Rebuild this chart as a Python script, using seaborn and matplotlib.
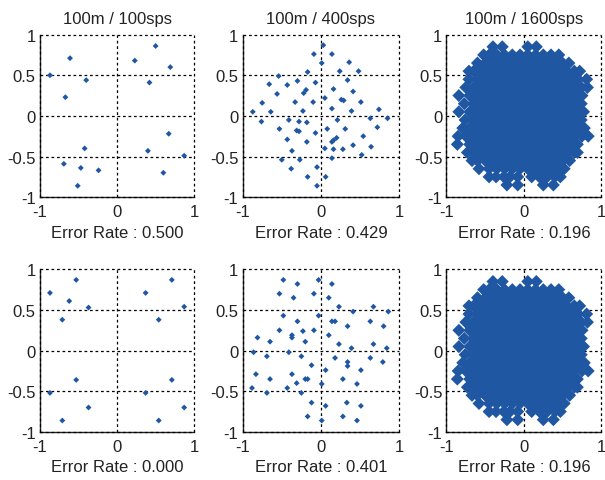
import matplotlib
matplotlib.use("Agg")
import matplotlib.pyplot as plt
import seaborn as sns
import numpy as np
import pandas as pd

# panel titles / error rates
titles = ["100m / 100sps", "100m / 400sps", "100m / 1600sps"]
error_rates = [["0.500", "0.429", "0.196"], ["0.000", "0.401", "0.196"]]

# top-left (100sps)
x_100a = [-0.87, -0.61, -0.40, -0.67, 0.23, 0.50, 0.69, 0.42, -0.42, -0.69, -0.47, -0.24, -0.51, 0.67, 0.40, 0.87, 0.60]
y_100a = [0.50, 0.71, 0.44, 0.23, 0.68, 0.86, 0.60, 0.41, -0.40, -0.59, -0.64, -0.67, -0.86, -0.22, -0.43, -0.49, -0.70]

# bottom-left (100sps)
x_100b = [-0.87, -0.53, -0.62, -0.37, -0.71, 0.37, 0.71, 0.87, 0.54, -0.53, -0.87, -0.37, -0.71, 0.37, 0.71, 0.87, 0.54]
y_100b = [0.71, 0.87, 0.61, 0.53, 0.38, 0.71, 0.87, 0.54, 0.38, -0.36, -0.52, -0.70, -0.86, -0.52, -0.36, -0.70, -0.86]

# top-middle (400sps)
x_400a = [0.03, -0.09, 0.14, 0.01, 0.36, -0.17, 0.24, 0.48, -0.54, -0.66, -0.30, -0.07, -0.43, 0.34,
          0.16, -0.19, -0.22, 0.41, -0.56, 0.05, 0.26, 0.29, -0.33, -0.10, 0.51, -0.75, 0.14, -0.23,
          0.39, -0.87, -0.64, 0.74, -0.41, -0.28, -0.76, 0.21, 0.63, 0.85, -0.18, -0.53, 0.08, 0.31,
          0.72, -0.31, -0.28, -0.07, -0.43, 0.20, 0.16, 0.54, -0.18, 0.14, 0.41, 0.05, 0.16, 0.28,
          0.64, -0.37, 0.52, -0.50, -0.27, 0.14, -0.05, -0.38, -0.17, 0.06, -0.05]
y_400a = [0.87, 0.76, 0.76, 0.65, 0.66, 0.54, 0.55, 0.55, 0.49, 0.39, 0.43, 0.41, 0.38, 0.44,
          0.33, 0.32, 0.28, 0.30, 0.27, 0.22, 0.20, 0.19, 0.17, 0.17, 0.17, 0.16, 0.09, 0.06,
          0.06, 0.05, 0.05, 0.08, -0.05, -0.07, -0.07, -0.05, -0.03, -0.03, -0.08, -0.16, -0.16, -0.16,
          -0.14, -0.18, -0.19, -0.21, -0.29, -0.27, -0.30, -0.25, -0.32, -0.32, -0.36, -0.40, -0.41, -0.41,
          -0.38, -0.43, -0.48, -0.54, -0.54, -0.52, -0.63, -0.65, -0.75, -0.75, -0.86]

# bottom-middle (400sps)
x_400b = [-0.48, -0.30, -0.03, 0.14, -0.53, -0.09, -0.35, 0.10, 0.23, 0.67, 0.41, 0.86, -0.48, -0.03,
          -0.30, 0.14, 0.18, 0.63, -0.37, -0.37, -0.53, -0.09, -0.23, 0.34, 0.80, 0.10, -0.81, -0.20,
          -0.65, 0.23, 0.67, 0.39, 0.84, -0.86, -0.41, -0.69, -0.25, 0.18, 0.63, 0.34, 0.34, 0.79,
          -0.12, -0.83, -0.37, 0.06, 0.51, -0.65, -0.20, -0.17, -0.31, 0.28, 0.01, 0.46, -0.88, -0.43,
          -0.69, -0.25, -0.12, 0.33, 0.06, 0.51, -0.17, 0.28, 0.01, 0.46]
y_400b = [0.87, 0.82, 0.87, 0.82, 0.70, 0.70, 0.65, 0.65, 0.54, 0.54, 0.48, 0.48, 0.43, 0.43,
          0.36, 0.36, 0.36, 0.36, 0.19, 0.16, 0.25, 0.25, 0.24, 0.30, 0.30, 0.19, 0.16, 0.11,
          0.11, 0.08, 0.08, 0.03, 0.03, -0.02, -0.02, -0.07, -0.07, -0.09, -0.09, -0.14, -0.19, -0.14,
          -0.18, -0.29, -0.29, -0.24, -0.24, -0.35, -0.35, -0.35, -0.40, -0.35, -0.41, -0.41, -0.46, -0.46,
          -0.52, -0.52, -0.64, -0.64, -0.68, -0.68, -0.81, -0.81, -0.86, -0.86]

dense_y = [0.85, 0.75, 0.65, 0.55, 0.45, 0.35, 0.25, 0.15, 0.05,
           -0.05, -0.15, -0.25, -0.35, -0.45, -0.55, -0.65, -0.75, -0.85]
dense_x = [
    [-0.40, -0.28, 0.05, 0.16],
    [-0.52, -0.45, -0.35, -0.25, -0.15, -0.05, 0.05, 0.15, 0.25, 0.35, 0.45],
    [-0.60, -0.50, -0.40, -0.30, -0.20, -0.10, 0.00, 0.10, 0.20, 0.30, 0.40, 0.50, 0.58],
    [-0.71, -0.65, -0.55, -0.45, -0.35, -0.25, -0.15, -0.05, 0.05, 0.15, 0.25, 0.35, 0.45, 0.55, 0.65, 0.72],
    [-0.71, -0.60, -0.50, -0.40, -0.30, -0.20, -0.10, 0.00, 0.10, 0.20, 0.30, 0.40, 0.50, 0.60, 0.70, 0.81],
    [-0.75, -0.65, -0.55, -0.45, -0.35, -0.25, -0.15, -0.05, 0.05, 0.15, 0.25, 0.35, 0.45, 0.55, 0.65, 0.74, 0.82],
    [-0.84, -0.70, -0.60, -0.50, -0.40, -0.30, -0.20, -0.10, 0.00, 0.10, 0.20, 0.30, 0.40, 0.50, 0.60, 0.70, 0.75],
    [-0.77, -0.65, -0.55, -0.45, -0.35, -0.25, -0.15, -0.05, 0.05, 0.15, 0.25, 0.35, 0.45, 0.55, 0.65, 0.74],
    [-0.84, -0.70, -0.60, -0.50, -0.40, -0.30, -0.20, -0.10, 0.00, 0.10, 0.20, 0.30, 0.40, 0.50, 0.60, 0.70, 0.77],
    [-0.76, -0.65, -0.55, -0.45, -0.35, -0.25, -0.15, -0.05, 0.05, 0.15, 0.25, 0.35, 0.45, 0.55, 0.65, 0.74],
    [-0.79, -0.70, -0.60, -0.50, -0.40, -0.30, -0.20, -0.10, 0.00, 0.10, 0.20, 0.30, 0.40, 0.50, 0.60, 0.70, 0.78],
    [-0.85, -0.75, -0.65, -0.55, -0.45, -0.35, -0.25, -0.15, -0.05, 0.05, 0.15, 0.25, 0.35, 0.45, 0.55, 0.65, 0.75, 0.83],
    [-0.86, -0.70, -0.60, -0.50, -0.40, -0.30, -0.20, -0.10, 0.00, 0.10, 0.20, 0.30, 0.40, 0.50, 0.60, 0.69],
    [-0.73, -0.65, -0.55, -0.45, -0.35, -0.25, -0.15, -0.05, 0.05, 0.15, 0.25, 0.35, 0.45, 0.55, 0.65, 0.69],
    [-0.67, -0.60, -0.50, -0.40, -0.30, -0.20, -0.10, 0.00, 0.10, 0.20, 0.30, 0.40, 0.50, 0.59],
    [-0.58, -0.45, -0.35, -0.25, -0.15, -0.05, 0.05, 0.15, 0.25, 0.35, 0.45, 0.52],
    [-0.45, -0.36, -0.26, -0.18, -0.08, 0.10, 0.20, 0.30, 0.40, 0.47],
    [-0.22, -0.08, 0.25, 0.38],
]

blue = "#1f57a3"

sns.set_style("white")
plt.rcParams["font.family"] = ["Liberation Sans", "DejaVu Sans"]
plt.rcParams["font.size"] = 12

def dense_frame():
    xs, ys = [], []
    for yv, row in zip(dense_y, dense_x):
        xs += row
        ys += [yv] * len(row)
    return pd.DataFrame({"x": xs, "y": ys})

panels = [
    [pd.DataFrame({"x": x_100a, "y": y_100a}), pd.DataFrame({"x": x_400a, "y": y_400a}), dense_frame()],
    [pd.DataFrame({"x": x_100b, "y": y_100b}), pd.DataFrame({"x": x_400b, "y": y_400b}), dense_frame()],
]
sizes = [9, 9, 44]

fig = plt.figure(figsize=(6.05, 4.81), dpi=100)
lefts = [0.066, 0.401, 0.738]
widths = [0.255, 0.259, 0.256]
bottoms = [0.588, 0.100]

for r in range(2):
    for c in range(3):
        ax = fig.add_axes([lefts[c], bottoms[r], widths[c], 0.338])
        sns.scatterplot(data=panels[r][c], x="x", y="y", ax=ax, marker="D",
                        s=sizes[c], color=blue, edgecolor="none", linewidth=0, zorder=3)
        ax.set_xlim(-1, 1)
        ax.set_ylim(-1, 1)
        ax.set_xticks([-1, 0, 1])
        ax.set_xticklabels(["-1", "0", "1"])
        ax.set_yticks([-1, -0.5, 0, 0.5, 1])
        ax.set_yticklabels(["-1", "-0.5", "0", "0.5", "1"])
        ax.tick_params(axis="x", direction="in", length=3, pad=5, colors="#222222")
        ax.tick_params(axis="y", direction="in", length=3, pad=3, colors="#222222")
        ax.grid(True, linestyle=(0, (2.2, 2.2)), color="black", linewidth=0.9)
        for gl in ax.get_xgridlines() + ax.get_ygridlines():
            gl.set_clip_on(False)
        ax.set_axisbelow(False)
        for side in ["top", "right"]:
            ax.spines[side].set_visible(False)
        for side in ["left", "bottom"]:
            ax.spines[side].set_color("#222222")
            ax.spines[side].set_linewidth(1.0)
        ax.set_ylabel("")
        ax.set_xlabel("Error Rate : " + error_rates[r][c], labelpad=4, color="#222222")
        if r == 0:
            ax.set_title(titles[c], pad=8, fontsize=12, color="#222222")

fig.savefig("out.png", dpi=100)
